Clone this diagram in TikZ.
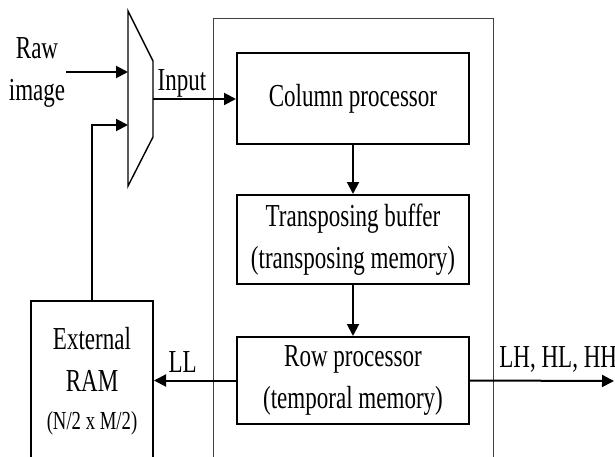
\documentclass[tikz,border=0pt]{standalone}
\usepackage{fontspec}
\setmainfont{Liberation Serif}[FakeStretch=0.72]
\usetikzlibrary{positioning,arrows.meta}
\tikzset{
  blk/.style={draw, line width=2pt, minimum width=232pt, align=center, inner sep=2pt},
  flow/.style={line width=2pt, -{Triangle[length=12pt, width=12pt]}},
  lbl/.style={inner sep=1pt}}
\begin{document}
\begin{tikzpicture}[x=1pt, y=-1pt,
  font=\fontsize{32}{42}\selectfont]
\useasboundingbox (0,0) rectangle (615,457);
% outer frame, cut by the page
\draw[line width=1pt, black!75] (213,470) |- (493,19) -- (493,470);
% multiplexer
\draw[line width=1.4pt] (128,11) -- (153,61) -- (153,137) -- (128,186) -- cycle;
\coordinate (muxa) at (128,72);
\coordinate (muxb) at (128,125);
\coordinate (muxo) at (153,99);
\node[lbl, align=center] (raw) at (37,72) {Raw\\image};
\node[blk, minimum height=91pt] (col) at (353,98.5) {Column processor};
\node[blk, minimum height=89pt] (tpb) at (353,239.5) {Transposing buffer\\(transposing memory)};
\node[blk, minimum height=87pt] (row) at (353,380.5) {Row processor\\(temporal memory)};
\node[draw, line width=2pt, minimum width=122pt, minimum height=160pt, align=center, inner sep=0pt]
  (ram) at (92,381) {External\\RAM\\[-4pt]{\fontsize{26}{30}\selectfont(N/2 x M/2)}};
\coordinate (out) at (614,381);
\draw[flow] (raw.east |- muxa) -- (muxa);
\draw[flow] (muxo) -- node[lbl, above, pos=0.35] {Input} (col.west |- muxo);
\draw[flow] (col) -- (tpb);
\draw[flow] (tpb) -- (row);
\draw[flow] (row.west) -- node[lbl, above=6pt, pos=0.65] {LL} (ram.east |- row.west);
\draw[flow] (ram.north) |- (muxb);
\draw[flow] (row.east) -- node[lbl, above=6pt, anchor=south west, pos=0.19] {LH, HL, HH} (out);
\end{tikzpicture}
\end{document}
